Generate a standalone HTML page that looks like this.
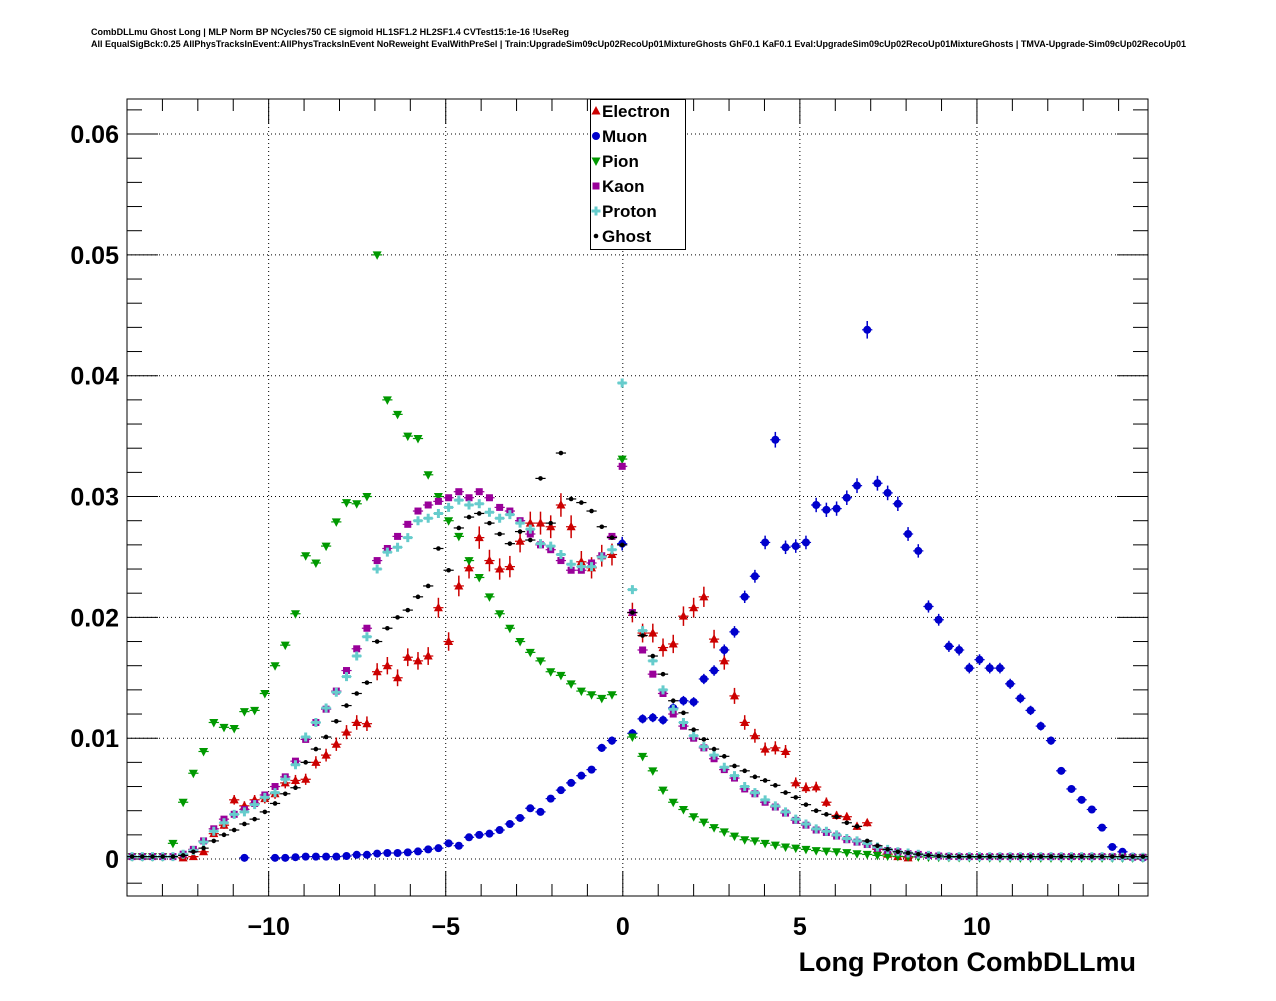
<!DOCTYPE html>
<html><head><meta charset="utf-8"><style>
body{margin:0;background:#fff;width:1276px;height:996px;overflow:hidden;font-family:"Liberation Sans",sans-serif}
svg text{font-family:"Liberation Sans",sans-serif;font-weight:bold}
</style></head><body>
<svg id="chart" width="1276" height="996" xmlns="http://www.w3.org/2000/svg">
<text x="91" y="35" font-size="9" textLength="478" lengthAdjust="spacingAndGlyphs">CombDLLmu Ghost Long | MLP Norm BP NCycles750 CE sigmoid HL1SF1.2 HL2SF1.4 CVTest15:1e-16 !UseReg</text>
<text x="91" y="47" font-size="9" textLength="1095" lengthAdjust="spacingAndGlyphs">All EqualSigBck:0.25 AllPhysTracksInEvent:AllPhysTracksInEvent NoReweight EvalWithPreSel | Train:UpgradeSim09cUp02RecoUp01MixtureGhosts GhF0.1 KaF0.1 Eval:UpgradeSim09cUp02RecoUp01MixtureGhosts | TMVA-Upgrade-Sim09cUp02RecoUp01</text>
<g id="grid"></g>
<g id="axes"></g>
<g id="marks"></g>
<rect x="127" y="99" width="1021" height="797" fill="none" stroke="#000" stroke-width="1"/>
<text x="1136" y="971" font-size="27" text-anchor="end">Long Proton CombDLLmu</text>
<g id="legend"></g>
</svg>
<script>
const xMin=-14, xMax=14.83, nBins=100;
const yMin=-0.00306, yMax=0.0629;
const xTicks=[-10,-5,0,5,10];
const xTickLabels=["\u221210","\u22125","0","5","10"];
const yTicks=[0,0.01,0.02,0.03,0.04,0.05,0.06];
const yTickLabels=["0","0.01","0.02","0.03","0.04","0.05","0.06"];
const seriesNames=["Electron","Muon","Pion","Kaon","Proton","Ghost"];
// values in units of 0.001, null = empty bin
const electron=[null,null,null,null,null,0.1,0.2,0.6,2.1,2.8,4.9,4.4,4.9,5.0,5.4,6.3,6.5,6.6,8.0,8.6,9.5,10.5,11.3,11.2,15.5,16.0,15.0,16.7,16.4,16.8,20.8,18.0,22.6,24.1,26.6,24.7,24.0,24.2,26.3,27.8,27.8,27.5,29.3,27.5,24.6,24.1,25.1,25.2,null,20.4,18.7,18.7,17.5,17.8,20.1,20.8,21.7,18.2,16.4,13.5,11.3,10.2,9.1,9.2,8.9,6.3,5.9,5.96,4.7,3.6,3.5,2.7,3.0,0.8,0.4,0.2,0.1,null,null,null,null,null,null,null,null,null,null,null,null,null,null,null,null,null,null,null,null,null,null,null];
const muon=[null,null,null,null,null,null,null,null,null,null,null,0.1,null,null,0.1,0.1,0.15,0.2,0.2,0.2,0.2,0.25,0.35,0.35,0.45,0.5,0.5,0.55,0.63,0.8,0.9,1.3,1.1,1.8,2.0,2.1,2.4,2.9,3.4,4.2,3.9,5.0,5.7,6.3,6.9,7.4,9.2,9.8,26.1,10.4,11.6,11.7,11.5,12.5,13.1,13.0,14.9,15.6,17.3,18.8,21.7,23.4,26.2,34.7,25.8,25.9,26.2,29.3,28.9,29.0,29.9,30.9,43.8,31.1,30.3,29.4,26.9,25.5,20.9,19.8,17.6,17.3,15.8,16.5,15.8,15.8,14.5,13.3,12.3,11.0,9.8,7.3,5.8,4.9,4.1,2.6,1.0,0.6,0.2,0.1];
const pion=[0.2,0.2,0.2,0.2,1.3,4.7,7.1,8.9,11.3,10.9,10.8,12.2,12.3,13.7,16.0,17.7,20.3,25.1,24.5,25.9,27.9,29.5,29.4,30.0,50.0,38.0,36.8,35.0,34.8,31.8,30.0,28.0,26.7,24.7,23.3,21.7,20.3,19.1,18.0,17.1,16.4,15.5,15.2,14.5,13.9,13.6,13.3,13.6,33.1,10.1,8.5,7.3,5.7,4.7,4.1,3.5,3.05,2.6,2.25,1.9,1.6,1.5,1.3,1.15,1.0,0.9,0.8,0.7,0.65,0.6,0.53,0.44,0.38,0.3,0.25,0.22,0.2,0.18,0.16,0.15,0.14,0.13,0.12,0.12,0.11,0.1,0.1,0.1,0.1,0.1,0.1,0.1,0.1,0.1,0.1,0.1,0.1,0.1,0.1,0.1];
const kaon=[0.2,0.2,0.2,0.2,0.2,0.4,0.8,1.5,2.5,3.3,3.7,4.1,4.6,5.3,6.0,6.8,8.1,9.9,11.3,12.4,13.9,15.6,17.4,19.1,24.7,25.7,26.7,27.7,28.8,29.3,29.6,29.9,30.4,29.9,30.4,29.9,29.1,28.8,28.0,26.9,26.0,25.6,24.7,23.9,23.9,24.5,25.1,26.7,32.5,20.4,17.3,15.3,13.7,12.0,11.0,10.0,9.2,8.3,7.4,6.7,5.8,5.4,4.7,4.3,3.8,3.2,2.8,2.4,2.2,1.9,1.6,1.4,1.2,0.9,0.7,0.6,0.44,0.38,0.3,0.25,0.22,0.2,0.2,0.2,0.2,0.2,0.2,0.2,0.2,0.2,0.2,0.2,0.2,0.2,0.2,0.2,0.2,0.2,0.15,0.15];
const proton=[0.2,0.2,0.2,0.2,0.2,0.4,0.7,1.4,2.3,3.0,3.7,3.9,4.5,5.1,5.5,6.6,7.8,10.1,11.3,12.5,13.8,15.1,16.8,18.4,24.0,25.4,25.8,26.6,28.0,28.2,28.6,29.1,29.7,29.3,29.4,28.7,28.2,28.5,27.8,27.3,26.1,25.9,25.2,24.4,24.2,24.2,25.0,25.6,39.4,22.3,18.9,16.4,14.0,12.4,11.3,10.2,9.3,8.6,7.6,6.9,6.0,5.5,4.9,4.4,3.9,3.3,2.9,2.5,2.3,2.0,1.7,1.5,1.3,1.0,0.8,0.6,0.5,0.4,0.3,0.25,0.2,0.2,0.2,0.2,0.2,0.2,0.2,0.2,0.2,0.2,0.2,0.2,0.2,0.2,0.2,0.2,0.15,0.15,0.15,0.15];
const ghost=[0.2,0.2,0.2,0.2,0.2,0.3,0.6,0.9,1.5,2.0,2.4,2.9,3.3,3.9,4.6,5.4,5.9,8.0,9.1,10.1,11.4,12.7,13.7,14.6,18.0,19.1,20.0,20.6,21.7,22.6,25.7,23.9,27.4,28.3,28.6,27.8,26.9,26.1,27.1,26.4,31.5,27.8,33.6,29.8,29.5,28.8,27.5,26.6,26.0,20.4,18.5,16.8,15.3,13.1,12.1,10.7,9.9,9.1,8.5,7.7,7.3,6.8,6.5,6.1,5.5,5.1,4.5,4.0,3.7,3.5,3.0,2.7,1.5,1.1,0.8,0.6,0.5,0.4,0.3,0.25,0.2,0.2,0.2,0.2,0.2,0.2,0.2,0.2,0.2,0.2,0.2,0.2,0.2,0.2,0.2,0.2,0.2,0.2,0.2,0.2];

const L=127,R=1148,T=99,B=896;
const NS="http://www.w3.org/2000/svg";
function X(v){return L+(v-xMin)/(xMax-xMin)*(R-L);}
function Y(v){return B-(v-yMin)/(yMax-yMin)*(B-T);}
function mk(tag,attrs,parent){const e=document.createElementNS(NS,tag);for(const k in attrs)e.setAttribute(k,attrs[k]);parent.appendChild(e);return e;}
const grid=document.getElementById('grid'),axes=document.getElementById('axes'),marks=document.getElementById('marks'),legend=document.getElementById('legend');
xTicks.forEach(t=>{const g=mk('line',{x1:X(t),x2:X(t),y1:T,y2:B,stroke:'#000','stroke-width':1,'stroke-dasharray':'1,3'},grid);

});
yTicks.forEach(t=>{const g=mk('line',{x1:L,x2:R,y1:Y(t),y2:Y(t),stroke:'#000','stroke-width':1,'stroke-dasharray':'1,3'},grid);

});
for(let v=-14;v<=14;v++){const maj=(v%5===0);const len=maj?25:12;
mk('line',{x1:X(v),x2:X(v),y1:B,y2:B-len,stroke:'#000'},axes);
mk('line',{x1:X(v),x2:X(v),y1:T,y2:T+len,stroke:'#000'},axes);}
xTicks.forEach((t,i)=>{const e=mk('text',{x:X(t),y:935,'font-size':25,'text-anchor':'middle'},axes);e.textContent=xTickLabels[i];

});
for(let k=-1;k<=31;k++){const v=k*0.002;if(v<yMin||v>yMax)continue;const maj=(k%5===0);const len=maj?31:15;
mk('line',{x1:L,x2:L+len,y1:Y(v),y2:Y(v),stroke:'#000'},axes);
mk('line',{x1:R,x2:R-len,y1:Y(v),y2:Y(v),stroke:'#000'},axes);}
yTicks.forEach((t,i)=>{const e=mk('text',{x:119,y:Y(t)+9,'font-size':25,'text-anchor':'end'},axes);e.textContent=yTickLabels[i];

});
function marker(shape,color,cx,cy,parent){
 if(shape==='tri')return mk('polygon',{points:`${cx},${cy-5} ${cx-4.5},${cy+3.5} ${cx+4.5},${cy+3.5}`,fill:color},parent);
 if(shape==='trid')return mk('polygon',{points:`${cx},${cy+5} ${cx-4.5},${cy-3.5} ${cx+4.5},${cy-3.5}`,fill:color},parent);
 if(shape==='circ')return mk('circle',{cx:cx,cy:cy,r:4,fill:color},parent);
 if(shape==='sq')return mk('rect',{x:cx-3.5,y:cy-3.5,width:7,height:7,fill:color},parent);
 if(shape==='cross')return mk('path',{d:`M${cx-4.5},${cy-1.5}h3v-3h3v3h3v3h-3v3h-3v-3h-3z`,fill:color},parent);
 if(shape==='dot')return mk('circle',{cx:cx,cy:cy,r:2.3,fill:color},parent);
}
const series=[
 {name:'electron',label:'Electron',data:electron,color:'#cc0000',shape:'tri',ek:0.18},
 {name:'muon',label:'Muon',data:muon,color:'#0000cc',shape:'circ',ek:0.11},
 {name:'pion',label:'Pion',data:pion,color:'#009900',shape:'trid',ek:0.03},
 {name:'kaon',label:'Kaon',data:kaon,color:'#990099',shape:'sq',ek:0.03},
 {name:'proton',label:'Proton',data:proton,color:'#66cccc',shape:'cross',ek:0.03},
 {name:'ghost',label:'Ghost',data:ghost,color:'#000000',shape:'dot',ek:0.03}];
const bw=(xMax-xMin)/nBins;
series.forEach(s=>{
 const g=mk('g',{},marks);
 
 
 s.data.forEach((v,i)=>{ if(v===null)return;
  const xc=xMin+(i+0.5)*bw, cx=X(xc), cy=Y(v/1000);
  const err=s.ek*Math.sqrt(v)/1000;
  mk('line',{x1:X(xc-bw/2),x2:X(xc+bw/2),y1:cy,y2:cy,stroke:s.color,'stroke-width':1.2},g);
  if(err*12080>3) mk('line',{x1:cx,x2:cx,y1:Y(v/1000+err),y2:Y(v/1000-err),stroke:s.color,'stroke-width':1.5},g);
  const m=marker(s.shape,s.color,cx,cy,g);
  
  
 });
});
const lb=mk('rect',{x:590.5,y:99.5,width:95,height:150,fill:'#fff',stroke:'#000','stroke-width':1},legend);


series.forEach((s,i)=>{const y=111+i*25;
 const g=mk('g',{},legend);
 
 
 marker(s.shape,s.color,596,y,g);
 const t=mk('text',{x:602,y:y+6,'font-size':17},g);t.textContent=seriesNames[i];
});
</script>
</body></html>
